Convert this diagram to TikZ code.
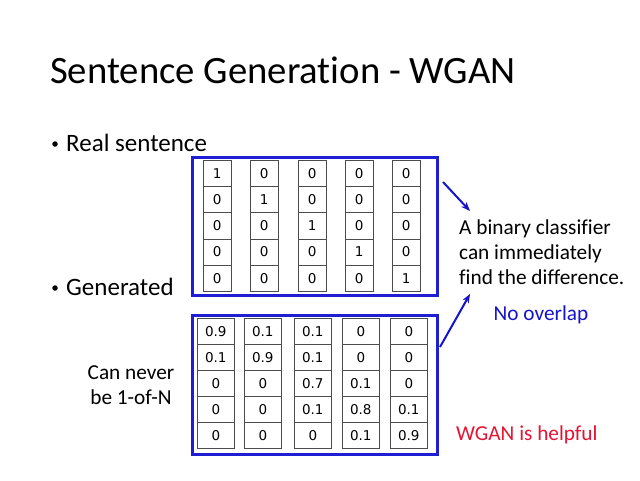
\documentclass[tikz,border=0pt]{standalone}
\usepackage{fontspec}
\setmainfont{Carlito}[RawFeature={-liga}]
\newfontfamily\cellfont{DejaVu Sans}
\usetikzlibrary{arrows.meta}
\definecolor{boxblue}{RGB}{30,30,210}
\definecolor{arrowblue}{RGB}{20,20,200}
\definecolor{wred}{RGB}{230,20,50}
\tikzset{
  cell/.style={draw=black!70,line width=0.7pt,minimum height=26.2pt,inner sep=0pt,font=\cellfont\fontsize{13.5}{13.5}\selectfont,anchor=north west},
  framebox/.style={draw=boxblue,line width=2.5pt},
  txt/.style={font=\fontsize{21.3}{25}\selectfont,inner sep=0pt},
  bullettxt/.style={font=\fontsize{25}{28}\selectfont,inner sep=0pt,anchor=west},
  dot/.style={circle,fill=black,inner sep=0pt,minimum size=5.5pt}
}
\tikzset{arr/.style={draw=arrowblue,line width=2pt,-{Stealth[length=9pt,width=7pt]}}}
\begin{document}
\begin{tikzpicture}[x=1pt,y=-1pt]
\useasboundingbox (0,0) rectangle (640,480);
\node[anchor=base west,inner sep=0pt,font=\fontsize{38.7}{42}\selectfont] (title) at (50,83) {Sentence Generation - WGAN};
\node[dot] (b1dot) at (55,144) {};
\node[bullettxt] (b1) at (66,143) {Real sentence};
\node[dot] (b2dot) at (55,288) {};
\node[bullettxt] (b2) at (66,287) {Generated};
% top box
\node[framebox,minimum width=245pt,minimum height=138pt,anchor=north west,inner sep=0pt] (topbox) at (191,156) {};
\foreach \c/\x in {1/203,2/250,3/298,4/345,5/392}{
  \foreach \r in {1,...,5}{
    \pgfmathtruncatemacro{\v}{\c==\r ? 1 : 0}
    \node[cell,minimum width=27.5pt] (t-\c-\r) at (\x,{160+(\r-1)*26.2}) {\v};
  }
}
% bottom box
\node[framebox,minimum width=245pt,minimum height=139pt,anchor=north west,inner sep=0pt] (botbox) at (191,314) {};
\foreach \c/\x/\vals in {1/197/{0.9,0.1,0,0,0},2/244/{0.1,0.9,0,0,0},3/294/{0.1,0.1,0.7,0.1,0},4/342/{0,0,0.1,0.8,0.1},5/390/{0,0,0,0.1,0.9}}{
  \foreach \v [count=\r] in \vals{
    \node[cell,minimum width=37pt] (g-\c-\r) at (\x,{318+(\r-1)*26}) {\v};
  }
}
\node[txt,align=center] (never) at (131,385) {Can never\\be 1-of-N};
\node[txt,align=left,anchor=north west] (classifier) at (459,220) {A binary classifier\\can immediately\\find the difference.};
\node[txt,text=arrowblue] (overlap) at (541,315) {No overlap};
\node[txt,text=wred,anchor=west] (helpful) at (456,435) {WGAN is helpful};
\coordinate (a1s) at (443,182);
\coordinate (a1e) at (470,211);
\coordinate (a2s) at (440,347);
\coordinate (a2e) at (470,294);
\draw[arr] (a1s) -- (a1e);
\draw[arr] (a2s) -- (a2e);
\end{tikzpicture}
\end{document}
